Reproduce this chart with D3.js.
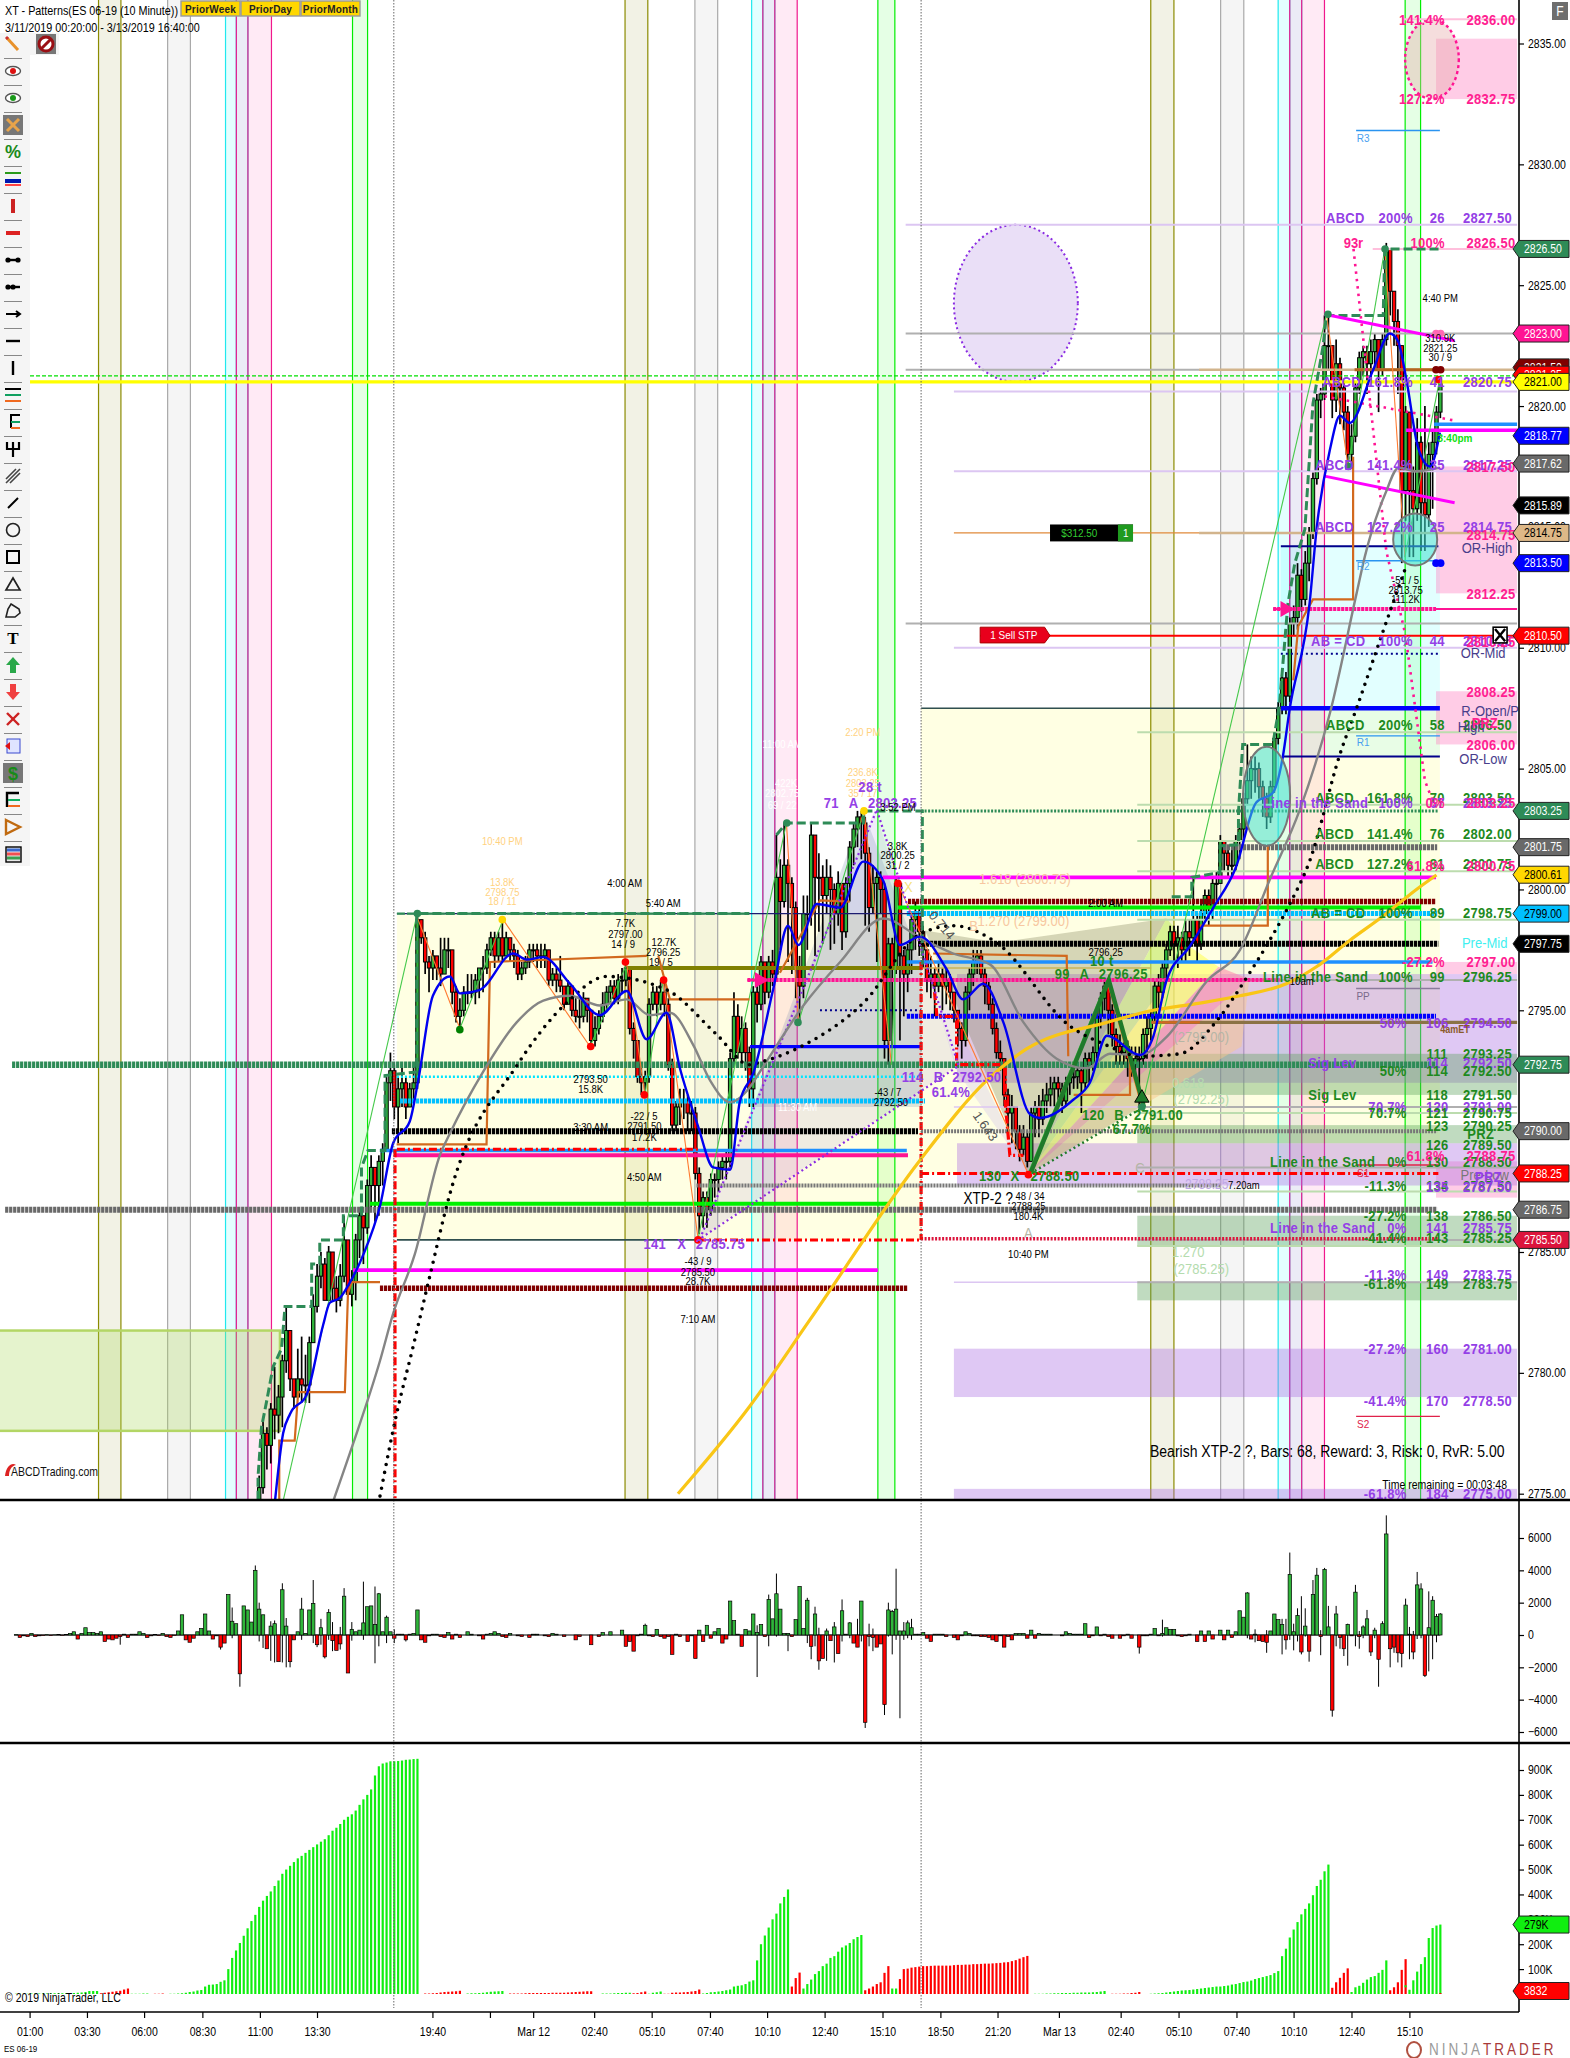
<!DOCTYPE html>
<html>
<head>
<meta charset="utf-8">
<script src="https://cdnjs.cloudflare.com/ajax/libs/d3/7.8.5/d3.min.js"></script>
<style>
html, body { margin: 0; padding: 0; background: #fff; }
svg { display: block; font-family: "Liberation Sans", Arial, sans-serif; }
</style>
</head>
<body>
<script>
const firstBar = 62; // earlier bars sit below the price window
const priceBase = 2700;
const barClose = [
73,75.25,77.5,77,78.5,78.25,79,80.5,81.75,79.75,79,79.75,79.5,79.5,81.25,82.75,84,84.5,83,85,83.5,83,84,85.5,83.25,83.75,85.5,86.5,86,87.75,88.5,87.75,88.75,89.25,92,92.5,91,91.75,92,91,91.75,92,98.75,
98,97,96.75,97.25,96.75,96.5,97.5,97.5,95.75,94.75,95,95.75,95.75,95.75,96.25,96.75,96.75,97.5,98,97.25,98,97.25,98,97.5,97.25,96.5,96.75,97,97.5,97.5,97.25,97.25,97.5,96.25,96.5,96.25,96,95.25,96,95,94.75,94.75,95.5,95,93.75,94.25,94.75,95.25,95.75,96,95.5,96.25,96.25,96.75,
94.25,93.75,92.25,92,92.25,95.25,95.75,95.25,95.75,95.25,92.75,90.25,91,91.25,91.25,90.75,90.75,88.25,86.5,87.25,86.75,88,88,88.5,88.75,88.75,93,94.75,93.25,94.25,93.25,91.75,95.75,95.25,97,95.75,97,96.5,100.5,99.5,101,100.25,99.25,96.75,96,99,99,102.25,100.5,100.5,99.75,100.5,100,99,100.25,98.25,100.25,101.75,102.5,103,102.75,101.5,99.25,100.25,100.5,100,93.75,97.75,96.75,100.25,97.25,96.5,97.5,98.75,99,98.25,
97.5,96.25,96.5,96,96.5,96,96.25,95.75,95,94.25,93.75,95.75,96.5,97,97.25,96.5,96,95.25,94.25,93.25,93,91.5,90.75,91,90,89.25,89.75,88.75,90.75,91,90.5,91.25,91.5,91.75,92,91.75,91.25,92,92.25,92.25,92.5,92,93,92.75,93.25,94.75,95.5,96,95,94,93.5,93.25,93.5,93,92.75,93,93,94,94.25,94.75,96,95.75,96.75,97.5,98.25,97.75,98,97.5,98.25,98,98.75,97.75,99,99.75,99.25,100.25,100.25,102,101.5,101,101,102,102.5,103.75,104.5,105,105,104.25,103.75,103,104.25,106.25,107.5,108.75,108,111,111.25,113,112,113.5,114.75,117,120.25,120.5,122.5,122.5,120.25,121.75,120.75,119.75,118,118.75,120.75,122,122.25,121.75,122.25,122.75,121.5,122.75,126.5,124.75,123.5,122.5,116.5,119.75,116.5,115.75,118.5,116,115.5,118,118.5,119.75,121];
const barHigh = [
74,75.75,78,77.75,78.75,80.25,79.5,80.75,82.75,81.75,79.75,81,81.5,80.75,81.5,83.25,84.5,85,84.75,85.25,85,84,84.5,86.5,85.5,84.25,85.75,86.75,86.5,88,89,88.5,89,89.5,92.25,93.25,92.75,92.25,92.75,92.25,92,92.75,99,
98.75,98.25,97.25,97.5,97.25,98,98,98,97.5,96,95.5,96,96.5,96.5,96.5,96.75,97.25,97.75,98.25,98.25,98.25,98.75,98.25,98,97.75,97.5,97,97.25,97.75,97.75,97.75,97.75,97.75,97.5,96.75,96.75,97.25,96,96.25,96,95.5,95.5,95.75,95.5,95,94.75,95,95.75,96,96.25,96.25,96.5,96.75,97,
96.75,94.5,93.75,92.75,92.5,95.5,96,96,96.25,96.25,95.5,93,91.25,91.75,91.75,91.5,91.25,91,88.5,87.5,87.5,88.25,88.25,88.75,89,89.25,93.25,95.75,95.25,94.75,94.5,93.5,96,96,97.25,97,97.25,97.5,102.25,101.25,102.75,101.25,100.5,99.5,97.25,99.75,99.75,102.75,102.25,101.5,101,101.25,101,100.25,100.75,100.25,100.5,102,102.75,103.25,103.25,103,101.75,101,100.75,100.75,100.25,98,98,100.5,100,97.5,97.75,99,99.5,99.25,
98.5,97.5,97.25,96.75,97,96.75,96.75,96.5,95.75,95,94.5,96,96.75,97.5,97.5,97.5,96.75,96.25,95.5,94.5,93.75,93,91.75,91.5,91,90.25,90.25,90,91,91.25,91.5,91.75,92,92.25,92.25,92.25,92,92.25,92.5,92.75,92.75,92.75,93.25,93.25,93.5,95,95.75,96.25,96,95.25,94.25,94,93.75,93.75,93.5,93.5,93.5,94.25,94.75,95,96.25,96.5,97,97.75,98.5,98.5,98.5,98.25,98.75,98.75,100.5,99,99.5,100,100,100.5,100.75,102.25,102,101.75,101.75,102.25,102.75,104,106,105.5,105.5,105.25,104.5,104,104.5,106.5,107.75,109,109,111.25,111.75,113.5,113.25,114,115,117.25,120.5,120.75,123.75,123.75,122.5,122.75,122,121,120,119.25,121,122.25,122.5,122.5,122.75,123,122.75,123,126.75,125.75,124.75,124,122.5,120,119.75,117.5,119.5,118.75,120,118.5,119,120,121.25];
const barLow = [
71,73.5,75,76,76.25,77.25,77.5,77.75,80,79.25,78.5,79,78.75,78.75,78.75,81.25,82.5,83.5,83,83,83,82.5,82.75,83.75,83.25,82.75,83,84.75,84.5,85.75,86.75,86.25,86.5,87.75,89.25,91.25,90.5,89.5,91,90.5,91,91.25,91.75,
97.75,96.5,95.75,96.25,96.25,96,96.5,96.75,95.25,94.5,94.25,94.75,95.25,95.5,95.25,95.5,95.75,96.5,97.25,96.75,97,97,97.25,97,96.75,96.25,96.25,96.5,96.75,97,96.75,96.75,96.75,96,96,95.75,95.75,95,95.25,94.75,94.5,94.25,94.5,94.5,93.5,93.5,94,94.5,95,95.25,95.25,95.25,95.75,96,
94,93,92,91.5,91.5,92,95,94.75,95,94.75,92.5,90,90,90.25,90.5,90,90,88,85.75,86,86,86.5,87.25,87.5,88,88,88.5,92.75,93,92.75,92.5,91,91,94.5,95,95.25,95.5,96,96.25,97.5,99.25,97,96.5,95.5,94.5,95.5,97.5,98.5,97.25,98.25,97.75,99,97.5,97.75,98.5,97.5,98,99.5,101,101.75,101.25,98.5,98.25,99,97,99,93,92.75,93.5,96.5,93.75,94.75,95.75,96.5,97.5,97.25,
96.75,95.75,95.5,94.75,95.75,95,95.25,95,94.5,93.5,93,93.5,95,96,96.5,96.25,95.25,95,94,93,92.5,91,89.75,89.5,89.25,88.75,89,88.5,88.75,89.75,89.75,90.25,90.75,91,91,91.25,90.75,91,91.5,91.75,91.75,90.75,91.75,92,92.5,93,94.25,95,94,93.5,92.75,92.75,92.75,92.25,92.25,92.25,91,92.75,93,93.75,94.5,95,95.5,96.25,97.25,97,96.75,97,97,97.25,97.75,97,97.5,98.75,98.5,98.75,99.5,100.25,100.75,100.5,100.5,100.75,101.25,102,103.5,103.75,104,103.75,103,102.5,102.75,104,106,107.25,107.25,107.75,110.5,110.75,111.5,111.75,112.75,114.5,116.75,119.5,120.25,121.5,119.5,119.75,119.25,119,117.5,117.5,118.5,120.5,121.25,120.5,121,121.5,119.75,121.25,122.5,123.75,122.5,120.5,113.5,115.25,113.75,113.75,115.25,114,114,115,115.75,118,119.5];

// delta panel, one value per bar from bar 0
const deltaClose = [
20,-150,-50,-100,100,-100,-50,-30,20,-30, 10,30,-20,30,100,200,-250,100,450,150,
150,100,200,-400,-250,-300,-200,-100,50,-150, 50,50,200,100,-150,-50,30,-30,100,-100,
-150,-30,250,1250,-300,-450,-200,200,400,1300, 250,-250,-50,-750,-500,2500,850,700,-2400,1800,
1550,800,4000,1600,1250,-850,550,700,-1650,2800, 550,-1650,-300,200,1600,100,1550,1950,-600,450,
-1350,1400,-350,-950,-550,2400,-2350,350,200,300, 750,1750,1800,650,2550,200,1100,200,-200,50,
50,-300,50,100,1550,-300,-450,-50,50,50, -100,-150,150,-250,50,-150,0,200,50,0,
-50,-250,50,100,200,100,-100,-150,100,0, -50,-100,0,-150,50,50,0,-50,-100,100,
50,0,-100,0,0,-300,-100,0,0,-600, 0,-100,150,0,200,0,0,300,-700,-400,
-1000,-50,50,600,-50,-100,350,-100,-200,-100, -1200,50,-100,0,-400,-50,-1450,300,-400,600,
-200,200,400,-500,-250,2100,900,50,-700,350, 250,1300,150,650,-100,2200,1000,2550,1600,100,
100,-100,950,3000,400,2150,-700,1300,-1600,-1450, 250,-350,500,-1150,1500,50,750,-500,-750,2100,
-5400,-100,-150,-750,-550,-4300,1550,1450,1600,250, 250,750,450,50,50,150,-200,-400,50,50,
50,-100,0,-150,-300,-50,200,100,-50,-50, -100,-100,-150,-300,-400,-50,-750,-100,-300,100,
100,100,-200,300,-200,100,50,50,50,0, 0,-50,200,100,50,50,50,700,-150,-50,
500,-50,50,-100,-200,0,-200,-50,50,-200, 0,-750,-50,-50,50,400,-50,100,450,350,
350,-50,-100,-50,50,0,-400,250,-400,250, -250,0,300,-300,300,-150,200,1500,1100,2600,
-250,50,-350,-400,-450,250,1300,950,650,-300, 3750,200,1200,-1050,550,-1000,2500,3700,-100,4050,
500,-4650,1300,-150,-850,650,-50,2650,-100,500, 1000,-1050,300,-1500,700,6250,-850,-750,-1100,-1150,
1850,50,-1050,3100,2850,-2500,450,2150,1150,1300];
// wick extremes where a bar pokes out of its body: bar, high, low
const deltaWicks = [[27,0,-600],[53,0,-900],[56,1700,-200],[58,0,-3200],[62,4300,0],[63,2000,-400],[64,1250,-800],[66,850,-1600],[67,900,-1700],[69,3200,-1700],[70,1050,-2000],[71,0,-2000],[74,2300,-300],[77,3400,-500],[78,0,-750],[79,1000,-600],[80,0,-1450],[81,1600,-300],[82,800,-1000],[84,500,-900],[85,2900,0],[87,800,-350],[90,3300,-300],[93,3000,-1750],[94,2600,-700],[96,1200,-500],[98,350,-500],[101,0,-400],[163,700,0],[192,600,-2600],[195,2500,-700],[197,3800,-100],[200,0,-1000],
[205,2300,-500],[206,0,-1500],[207,1750,-700],[208,450,-2150],[210,400,-1600],[212,800,-1700],[214,2200,-400],[216,800,-200],[218,1000,-700],[219,2100,-400],[220,0,-5750],[221,700,-700],[222,400,-1000],[225,0,-4950],[226,2000,-100],[227,1550,-1200],[228,4100,-300],[229,250,-5150],[230,800,-300],[231,900,-200],[232,1000,-300],[291,0,-1150],[297,950,-100],[319,2650,-200],[321,350,-450],[324,300,-1100],[328,1000,-1200],[329,1000,-900],[330,5100,-300],[331,700,-950],[332,1650,-400],[333,2400,-1200],[334,1650,-100],[335,0,-1650],[336,3400,0],[337,4150,0],[338,300,-1250],[339,4150,0],[340,1800,0],[341,0,-5050],[342,1800,-700],[343,0,-850],[344,0,-1300],[345,700,-1900],[347,3100,-700],[348,250,-850],[349,600,-200],[350,1550,0],[351,0,-1300],[352,450,-200],[353,0,-3200],[354,850,0],[355,7400,0],[356,0,-2000],[357,0,-1100],[358,0,-1700],[359,0,-2000],[360,2250,0],[361,500,-1500],[362,250,-1500],[363,3900,-250],[364,3200,-200],[365,0,-2600],[366,2700,-2250],[367,2400,-1500],[368,1300,-450],[369,1350,0]];

// cumulative volume in thousands, negative draws red. [first bar, values]
const volumeRuns = [
[0,[1,1,1,1,2,2,2,2,2,3,3,3,3,3,4,4,5,6,8,12,12,12]],
[22,[-3,-5,-7,-9,-11,-13,-18,-22]],
[30,[1,1,1,2,2]],
[36,[-1,-1,-2]],
[40,[1,1,2,3,5,8,10,14,16,30,37,38,40,49,55,100,145,175,205,234,264,293,318,350,375,394,412,434,456,483,500,515,530,545,555,567,579,590,601,612,622,638,656,668,683,700,712,722,737,760,782,800,822,878,915,926,930,935,935,936,938,941,942,944,945]],
[106,[-2,-2,-3,-4,-6,-8,-9,-10,-11,-13]],
[117,[2,3,3,4,5,7,9,10,11,12]],
[128,[-2,-2,-2,-2,-3,-4,-4,-4,-4,-4,-4,-5,-5,-5,-5,-6,-7,-8,-9,-10,-11,-11]],
[152,[2,2,2,3,4,4,5,5]],
[160,[-3,-4,-7,-10]],
[164,[1,5,7,10]],
[168,[-1,-1]],
[170,[-5,-6,-6,-7,-8,-10,-12,-18]],
[178,[2,4,7,8,10,12,15,18,30,33,35,40,50,55,135,200,235,267,300,323,364,390,420]],
[201,[-30,-64,-86]],
[204,[22,40,58,80,92,112,122,145,152,170,187,195,205,220,229,237]],
[220,[-15,-22,-30,-40,-47,-85,-112]],
[227,[22,22]],
[229,[-60,-100,-102,-106,-108,-110,-112,-112,-113,-114,-114,-114,-114,-114,-116,-117,-117,-118,-118,-120,-120,-121,-122,-122,-123,-124,-125,-127,-128,-132,-136,-142,-148,-153]],
[264,[1,1,1,2,2,3,3,4,4,4,5,5,6,6,6,7,8,10,12]],
[284,[-1,-1,-1,-2,-2,-4,-5,-8]],
[294,[1,2,3,4,6,8,10,12,14,15,16,18,20,22,24,26,28,30,30,32,34,38,40,44,48,50,54,60,64,68,72,76,84,92,152,182,227,259,289,320,342,364,397,434,459,493,520]],
[341,[-25,-47,-65,-85,-103]],
[346,[8,27,33,45,58,68,72,85,97,135]],
[356,[-15,-27,-47,-97,-140]],
[361,[17,55,90,120,148,225,265,275,279]]];

// moving averages and swings: [bar, price]
const blueAverage = [[67.1,2774.7],[69.2,2777.5],[71,2778.3],[75.3,2779.1],[79.6,2782],[81.3,2782.9],[83.9,2783.1],[86,2783.6],[90,2784.9],[94.3,2786.9],[97.7,2789.5],[102,2790.4],[104.2,2792.1],[108,2795.6],[112.4,2796.4],[115,2795.7],[120.2,2795.85],[128.8,2797.35],[132.3,2797.1],[136.6,2797.2],[143.5,2796.1],[151.3,2794.8],[158.2,2795.8],[163.4,2793.8],[168.5,2794.9],[172,2792.6],[176.7,2790.2],[180.6,2788.5],[185,2788.4],[187.5,2791.2],[191,2792.4],[196.2,2795.9],[200,2798.5],[202.7,2797.7],[207.4,2799.4],[213.5,2799.25],[219.5,2801.15],[224.7,2800.35],[229,2797.7],[234.2,2798.05],[241.1,2796.7],[245.4,2795.45],[250.6,2796.1],[255.8,2794.5],[262.7,2790.7],[265.3,2790.55],[273.9,2791.3],[278.2,2792],[282.6,2793.95],[291.2,2793.15],[294.6,2793.9],[298.1,2796.25],[304.1,2797.65],[310.2,2799.25],[316,2800.9],[321.3,2803.6],[325.6,2804],[328.2,2805.5],[329.9,2807.4],[335.1,2811.8],[337,2815],[340.4,2818.2],[343,2819.6],[345.5,2819.3],[351.6,2821.5],[355.9,2823],[358,2822.7],[360.2,2821.1],[363.2,2818.3],[366.3,2817.5],[368.9,2818.9]];
const grayAverage = [[82.2,2774.7],[87.4,2777.1],[94.3,2780.5],[97.7,2782.45],[103.3,2784.9],[109.8,2789],[112.4,2789.9],[121,2792.45],[129.7,2794.5],[136.6,2795.4],[143.5,2795.6],[151.3,2795.2],[158.2,2795.45],[164.2,2794.8],[169.4,2794.9],[175.5,2793.55],[179.8,2792.1],[185,2791.2],[190,2791.8],[192.7,2792.45],[204,2795.2],[213.5,2797],[224.7,2798.8],[234.2,2798],[242.8,2797.35],[252.3,2796.9],[261,2794.5],[269.6,2793],[277.4,2792.6],[283.4,2793.2],[291.2,2793.15],[298.1,2793.9],[308.5,2796.2],[317.1,2797.5],[324.8,2800.4],[332.6,2803.3],[340.4,2807.3],[347.3,2812.25],[349.4,2813.75],[354.8,2816.4],[358.2,2817.45],[362.8,2817.3],[368.9,2817.45]];
const dottedAverage = [[94.3,2774.9],[98.6,2778.3],[102.9,2781.1],[107.2,2784],[112.4,2787.4],[129.7,2792.7],[142.6,2795.3],[153,2796.4],[168.5,2795.85],[181.5,2794],[190,2792.75],[192.7,2792.85],[204,2793.55],[219.5,2795.3],[234.2,2798.15],[242.8,2798.5],[254,2797.8],[273,2794.35],[282.6,2793.55],[291.2,2793.1],[301.5,2793.2],[311,2794.55],[319.2,2796.45],[324.8,2797.9],[330,2799.4],[335.2,2801.2],[343,2805.6],[347.3,2807.5],[354.2,2810.7],[360.2,2813.4]];
const goldAverage = [[171.5,2775],[190,2778.6],[205.7,2782.2],[234.2,2788.8],[251.5,2792.1],[261.8,2793.4],[282.6,2794.5],[294.6,2795],[306.7,2795.3],[317.1,2795.6],[329.1,2796.1],[336.9,2796.8],[345.6,2797.9],[354.2,2798.9],[362.8,2800],[368,2800.6]];
const swingPoints = [[69.2,2774.7],[103.8,2798.9],[115,2794.25],[126.2,2798.75],[148.7,2793.5],[158.2,2796.9],[162.9,2791.5],[167.7,2796.25],[176.7,2785.55],[199.6,2802.75],[202.7,2794.5],[219.7,2803.25],[226.8,2792.75],[228.6,2800.2],[262.2,2788.25],[282.6,2796.25],[291.6,2791],[339.5,2823.8],[345.1,2817.5],[354.6,2826.5],[359.8,2813.75],[369,2821.25]];
const orangeSteps = [
[[68.2,2774.7],[68.2,2777.2],[72.2,2777.2],[73.1,2779.2],[85.2,2779.2],[86,2783.3],[87,2783.75],[94.3,2783.75]],
[[98.6,2789.45],[121.9,2789.45],[122.8,2797],[163.4,2797.25]],
[[166.4,2797.25],[169.4,2795.45],[190,2795.45]],
[[197.9,2796.55],[208.3,2799.55],[216,2799.5]],
[[237.6,2797.35],[272.2,2797.25],[272.6,2793.1]],
[[274,2791.5],[288.6,2791.5],[288.6,2793]],
[[294.2,2794.5],[306.7,2794.5]],
[[306.7,2798.5],[324.3,2798.5],[324.3,2801.8]],
[[330.9,2808.65],[332.2,2810.9],[336,2812],[346.4,2812],[346.4,2817.9]]];
const highSteps = [
[[62.7,2774.75],[62.7,2775.7],[63.6,2777.75],[64.9,2778.8],[66.6,2780.25],[68.8,2781],[69.7,2782.75],[76.6,2782.75],[76.6,2784.5],[78.7,2784.5],[78.7,2785.5],[84.8,2785.5],[84.8,2786.5],[89.5,2786.5],[89.5,2788.5],[91.2,2789.2],[95.6,2789.2],[95.6,2792.3],[103.8,2792.45],[103.8,2799],[190,2799]],
[[197,2802.25],[199.6,2802.75],[219.5,2802.75],[219.7,2803.25],[234.8,2803.25],[234.8,2796.9]],
[[299.4,2799.7],[304.6,2799.7],[304.6,2800.5],[311.9,2800.7],[311.9,2801.8],[316.7,2801.85],[316.7,2803.2],[317.8,2806],[325.6,2806],[327.3,2807.6],[329.5,2811.8],[331.3,2813.5],[333.9,2814.9],[336,2820.1],[338.6,2822.45],[339.5,2823.75],[354.2,2823.75],[354.6,2826.5],[368.9,2826.5]]];
const redStops = [
[[98.7,2789.25],[98.7,2772]],
[[235,2797],[235,2785.5]],
[[238.5,2795.75],[239.1,2794.75],[244.2,2794.75],[244.2,2792.75],[256.8,2792.75],[256.8,2791.2],[258,2789],[261.5,2789]]];
const magentaTrends = [[[339,2823.8],[372.7,2822.7]],[[339,2817.1],[372.7,2816]]];
const pinkDotted = [[[339,2820.4],[372.7,2819.4]],[[346.5,2826.5],[355,2814],[360,2810.5],[365,2804.5],[368,2803.25]]];
const patternPurple = [[177.2,2785.55],[223,2803.3],[244.2,2792.7],[177.2,2785.55]];
const patternGreen = [[262.8,2788.25],[283.1,2796.25],[292.2,2791]];

// session shading, [look, from, to] in bar slots
const bands = [
['olive',21.9,27.7],['gray',39.8,45.7],['cyan',54.8,57.6],['navy',57.6,60.6],['pink',60.6,66.7],['green',87.7,91.6],
['olive',158.3,164.2],['gray',176.4,182.3],['cyan',191.1,194],['navy',194,197.1],['pink',197.1,202.9],['green',223.8,228.2],
['olive',294.5,300.5],['gray',312.6,318.6],['cyan',327.5,330.5],['navy',330.5,333.6],['pink',333.6,339.5],['green',360.4,364.4]];
const sessionBreaks = [98.4,235];

// [look, from bar, to bar, price a, price b]
const baseZones = [
['yellow',99.2,235,2799,2785.5],['yellow',235,369.4,2807.5,2788.25],['cyan',328.2,369.4,2814.2,2807.5],['mint',328.2,369.4,2807.5,2805.5]];
const zones = [
['pink',368.4,389.4,2835.2,2832.7],['pink',368.4,389.4,2817.5,2812.25],['pink',368.4,389.4,2808.2,2806],['pink',368.4,389.4,2797,2796.5],['pink',368.4,389.4,2788.75,2787.25],
['lilac',244.3,389.4,2796.5,2792],['lilac',244.3,389.4,2789.5,2787.75],['lilac',243.5,389.4,2781,2779],['lilac',243.5,389.4,2775.2,2774.7],
['sage',291,389.4,2793.2,2791.5],['sage',291,389.4,2790.25,2789.5],['sage',291,389.4,2786.5,2785.25],['sage',291,389.4,2783.75,2783]];
const cornerBox = [-4,68.9,2781.75,2777.6];
// [look, [bar, price]...]
const wedges = [
['rgba(130,130,90,.33)',[236,2798.3],[255,2797.8],[298.6,2798.8],[262.8,2788.25]],
['rgba(200,240,110,.6)',[262.8,2788.25],[298.6,2798.8],[305,2797.6]],
['rgba(255,255,110,.7)',[262.8,2788.25],[305,2797.6],[312,2796.8]],
['rgba(255,140,170,.6)',[262.8,2788.25],[312,2796.8],[320,2796.3]],
['rgba(250,200,140,.5)',[262.8,2788.25],[320,2796.3],[318,2793.5]],
['rgba(110,130,170,.22)',[191.5,2791],[220,2803.25],[235,2797],[235,2791]],
['rgba(190,170,240,.25)',[235,2797.5],[262.8,2788.25],[244.2,2792.5]]];
// ellipses by bounding box: from bar, to bar, price a, price b
const ovals = [
[243.5,275.6,2827.5,2821,'#eadff7','#8a2be2','2 3',2],
[360.4,374.3,2836,2832.7,'rgba(230,170,170,.4)','#ff1493','3 3',2.4]];
const glassOvals = [
[318.4,330.6,2805.9,2801.8],[357.3,368.7,2815.55,2813.4]];

// horizontal levels, [look, from bar, to bar, price]
const levels = [
['lav',231,389.4,2827.5],['lav',243.5,389.4,2820.6],['lav',243.5,389.4,2817.3],['lav',243.5,389.4,2810],['lavThin',243.5,389.4,2791],['lavThin',243.5,389.4,2783.75],
['pinkThin',352,389.4,2826.5],['pinkThin',360,389.4,2836],
['grayLine',231,389.4,2823],['grayLine',231,389.4,2811],['grayLine',231,307,2821.5],['tan',307,389.4,2821.5],['orangeThin',243.5,307,2814.75],['tan',307,389.4,2814.75],['brown',347.3,368.9,2821.5],
['sageThin',291,389.4,2806.5],['sageThin',291,389.4,2803.5],['sageThin',291,389.4,2802],['sageThin',291,389.4,2800.75],['sageThin',291,389.4,2798.75],['grayLine',291,389.4,2796.25],['grayLine',291,389.4,2791],['sageThin',291,389.4,2790.75],['grayLine',291,389.4,2788.5],['sageThin',291,389.4,2787.5],['grayLine',291,389.4,2785.5],['sageThin',291,389.4,2785.25],['grayLine',291,389.4,2783.75],
['pivotBlue',347.7,369.4,2831.4],['pivotBlue',347.7,369.4,2813.6],['pivotBlue',347.7,369.4,2806.35],['pivotGray',347.7,369.4,2795.9],['pivotRed',347.7,369.4,2788.6],['pivotRed',347.7,369.4,2778.2],
['limeDash',4.15,389.9,2821.25],['yellowLine',4.15,389.9,2821],
['slate',235,328.2,2807.5],['navy',328.2,369,2814.2],['navy',328.8,369.4,2805.5],['navyDot',328.2,369,2809.75],['blueWide',328.2,369.4,2807.5],['red',250.3,389.9,2810.5],
['beadPink',326.2,368.4,2811.6],['pinkLine',368.4,389.4,2811.6],['magenta',360.6,389.4,2819],['dodger',367.9,389.4,2819.25],
['beadGreenThin',235,369,2803.25],['beadGray',313.2,368.7,2801.75],
['magenta',225,368.4,2800.5],['beadMaroon',231.6,368.4,2799.5],['lime',228.8,364.4,2799.25],['beadSky',231.3,368.7,2799],['beadBlack',234.2,369,2797.75],['dodger',231.3,367.5,2797],['beadPink',190,328,2796.25],
['oliveLine',158.8,235,2796.75],['goldThin',235,294.6,2796.75],['navyThin',99.2,235,2799],['navyDot',208.8,235,2795],['beadBlue',231.3,368.4,2794.75],['brownWide',294.6,389.4,2794.5],['blue',190.7,235,2793.5],
['beadGreen',-0.5,368.7,2792.75],['cyanDot',99.2,235,2792.25],['beadSky',100,236,2791.25],['beadBlack',97.9,234.2,2790],['beadGrayThin',235,368.7,2790],
['dodger',94.8,231.3,2789.2],['hotPink',98.7,231.6,2789],['redDash',99.2,177.2,2789.25],['redDash',235,369,2788.25],['beadGrayThin',176.8,312.4,2787.75],
['lime',92.2,226.9,2787],['beadGray',-2.3,368.7,2786.75],['slate',99.2,177.2,2785.5],['redDash',177.2,235,2785.5],['beadCrimson',235,369,2785.55],
['magenta',87.8,223.8,2784.25],['beadMaroon',94.8,231.6,2783.5]];
const greenDashLevels = [[99.2,190,2799]];

// [bar, price, look]
const swingDots = [
[104.5,2799,'seagreen'],[115.5,2794.2,'green'],[126.5,2798.75,'gold'],[149.4,2793.5,'red'],[158.4,2797,'red'],[163.3,2791.5,'red'],[168.3,2796.25,'red'],[177.2,2785.5,'red'],[200.2,2802.75,'seagreen'],[203.1,2794.5,'seagreen'],[220.2,2803.25,'gold'],[229,2800.25,'red'],[262.8,2788.2,'red'],[292.2,2791,'seagreen'],[340.4,2823.8,'seagreen'],[345.7,2817.5,'seagreen'],[355.2,2826.5,'seagreen'],[368.4,2823,'hotpink'],[369.6,2823,'hotpink'],[368.4,2821.5,'maroon'],[369.6,2821.5,'maroon'],[369,2821.1,'red'],[368.4,2813.5,'blue'],[369.6,2813.5,'blue']];

// target rows on the right: [look, name, name bar, percent, percent bar, count, price, price of text centre]
const fibRows = [
['p','ABCD',339.9,'200%',362.4,26,2827.5,2827.8],['p','ABCD',338.9,'161.8%',362.4,41,2820.75,2821.03],['p','ABCD',337.1,'141.4%',362.4,35,2817.25,2817.57],['p','ABCD',337.1,'127.2%',362.4,25,2814.75,2815.03],['p','AB = CD',336,'100%',362.4,44,2810.25,2810.28],
['g','ABCD',339.9,'200%',362.4,58,2806.5,2806.8],['g','ABCD',337.1,'161.8%',362.4,70,2803.5,2803.8],['p','Line in the Sand',323.6,'100%',362.4,67,2803.25,2803.6],['g','ABCD',337.1,'141.4%',362.4,76,2802,2802.3],['g','ABCD',337.1,'127.2%',362.4,81,2800.75,2801.05],['g','AB = CD',336,'100%',362.4,89,2798.75,2799.05],
['g','Line in the Sand',323.6,'100%',362.4,99,2796.25,2796.4],['p','',0,'50%',360.8,106,2794.5,2794.5],['g','',0,'',0,111,2793.25,2793.2],['p','Sig Lev',335.3,'',0,114,2792.5,2792.85],['g','',0,'50%',360.8,114,2792.5,2792.5],['g','Sig Lev',335.3,'',0,118,2791.5,2791.5],['p','',0,'70.7%',360.8,120,2791,2791],['g','',0,'70.7%',360.8,121,2790.75,2790.75],['g','',0,'',0,123,2790.25,2790.25],['g','',0,'',0,126,2789.5,2789.45],
['g','Line in the Sand',325.4,'0%',360.8,130,2788.5,2788.75],['g','',0,'-11.3%',360.8,134,2787.5,2787.75],['p','',0,'',0,135,2787.5,2787.7],['g','',0,'-27.2%',360.8,138,2786.5,2786.5],['p','Line in the Sand',325.4,'0%',360.8,141,2785.75,2786],['g','',0,'-41.4%',360.8,143,2785.25,2785.6],['p','',0,'-11.3%',360.8,149,2783.75,2784.05],['g','',0,'-61.8%',360.8,149,2783.75,2783.7],['p','',0,'-27.2%',360.8,160,2781,2781],['p','',0,'-41.4%',360.8,170,2778.5,2778.85],['p','',0,'-61.8%',360.8,184,2775,2775]];
// [percent, price, price of text centre]
const pinkRows = [
['141.4%',2836,2836],['127.2%',2832.75,2832.7],['100%',2826.5,2826.75],['',2817.5,2817.5],['',2814.75,2814.7],['',2812.25,2812.25],['',2810.25,2810.25],['',2808.25,2808.2],['',2806,2806],['0%',2803.25,2803.6],['61.8%',2800.75,2801],['-27.2%',2797,2797],['61.8%',2788.75,2789]];
// free labels: [text, bar, price of text centre, look]
const notes = [
['93r',347,2826.75,'pinkBig'],
['10:40 PM',126.5,2802,'orange'],['13.8K',126.5,2800.3,'orange'],['2798.75',126.5,2799.9,'orange'],['18 / 11',126.5,2799.5,'orange'],
['4:00 AM',158.2,2800.25,'small'],['5:40 AM',168.2,2799.45,'small'],['7.7K',158.4,2798.6,'small'],['2797.00',158.4,2798.15,'small'],['14 / 9',157.8,2797.75,'small'],['12.7K',168.4,2797.8,'small'],['2796.25',168.2,2797.4,'small'],['19 / 5',167.6,2797,'small'],
['2793.50',149.4,2792.15,'small'],['15.8K',149.4,2791.75,'small'],['-22 / 5',163.2,2790.6,'small'],['2791.50',163.3,2790.2,'small'],['17.2K',163.3,2789.75,'small'],['3:30 AM',149.4,2790.15,'small'],['4:50 AM',163.3,2788.1,'small'],
['-43 / 9',177.2,2784.6,'small'],['2785.50',177.2,2784.15,'small'],['28.7K',177.2,2783.8,'small'],['7:10 AM',177.2,2782.2,'small'],
['141',166,2785.35,'purple'],['X',173,2785.35,'purple'],['2785.75',183,2785.35,'purple'],
['2:20 PM',219.9,2806.5,'orange'],['236.8K',219.9,2804.85,'orange'],['2803.25',219.9,2804.4,'orange'],['35 / 17',219.9,2804,'orange'],['11:00 AM',199,2806,'white'],['422K',200,2804.4,'white'],['2802.75',199,2804,'white'],['69 / 22',199,2803.5,'white'],
['28 t',221.8,2804.25,'purple'],['71',211.7,2803.6,'purple'],['A',217.5,2803.6,'purple'],['2803.25',227.6,2803.6,'purple'],['3:52 PM',229,2803.4,'small'],
['3.8K',228.9,2801.8,'small'],['2800.25',228.9,2801.4,'small'],['31 / 2',228.9,2801,'small'],['X',231.7,2800.1,'paleYellow'],['B',248.6,2798.5,'paleOrange'],['1.618 (2800.75)',261.9,2800.45,'paleOrange'],['1.270 (2799.00)',261.5,2798.7,'paleOrange'],
['114',232.8,2792.25,'purple'],['B',239.5,2792.25,'purple'],['2792.50',249.4,2792.25,'purple'],['61.4%',242.7,2791.65,'purple'],['-43 / 7',226.4,2791.6,'small'],['2792.50',227.2,2791.2,'small'],['11:30 AM',203,2791,'white'],
['2:00 AM',282.8,2799.45,'small'],['2796.25',282.8,2797.4,'small'],['10 t',281.8,2797.05,'green'],['99',271.6,2796.5,'green'],['A',277.3,2796.5,'green'],['2796.25',287.4,2796.5,'green'],
['120',279.6,2790.7,'green'],['B',286.3,2790.7,'green'],['2791.00',296.5,2790.7,'green'],['67.7%',289.6,2790.1,'green'],['130',252.9,2788.15,'green'],['X',259.3,2788.15,'green'],['2788.50',269.7,2788.15,'green'],
['XTP-2 ?',252.4,2787.2,'black15'],['48 / 34',263.2,2787.3,'small'],['2788.25',262.8,2786.9,'small'],['180.4K',262.8,2786.5,'small'],['A',262.8,2785.8,'pale'],['10:40 PM',262.8,2784.9,'small'],['C',291.7,2788.5,'pale'],
['0.618',304.2,2792,'paleGreen'],['(2792.25)',307.6,2791.35,'paleGreen'],['1.270',304.2,2785,'paleGreen'],['(2785.25)',307.6,2784.3,'paleGreen'],['(2795.00)',307.6,2793.9,'pale'],['2788.25',309,2787.8,'paleLilac'],
['7.20am',318.6,2787.75,'small'],['10am',333.6,2796.2,'small'],['4amET',373.3,2794.2,'brown'],
['OR-High',381.6,2814.15,'level'],['OR-Mid',380.6,2809.8,'level'],['R-Open/P',382.4,2807.4,'level'],['High',377.5,2806.75,'level'],['OR-Low',380.6,2805.4,'level'],['Pre-Mid',381,2797.8,'cyanLevel'],['Pre-Low',381,2788.2,'grayLevel'],['PRZ',381,2806.9,'pinkBig'],['PRZ',380,2789.9,'green'],['PRZ',382,2788.1,'purple'],
['R3',349.5,2831.1,'pivotBlue'],['R2',349.5,2813.4,'pivotBlue'],['R1',349.5,2806.1,'pivotBlue'],['PP',349.5,2795.6,'pivotGray'],['S1',349.5,2788.3,'pivotRed'],['S2',349.5,2777.9,'pivotRed'],
['4:40 PM',369.5,2824.45,'small'],['310.9K',369.5,2822.8,'small'],['2821.25',369.5,2822.4,'small'],['30 / 9',369.5,2822,'small'],['3:40pm',373.3,2818.7,'limeBold'],['-51 / 5',360.5,2812.8,'small'],['2813.75',360.5,2812.4,'small'],['111.2K',360.5,2812,'small']];
const slantNotes = [['0.714',239.5,2798.4,50],['1.643',250.7,2790.1,55]];

// axis
const priceTicks = d3.range(2775,2836,5);
const deltaTicks = [-6000,-4000,-2000,0,2000,4000,6000];
const volumeTicks = [100,200,300,400,500,600,700,800,900];
const timeBars = [4.04,18.9,33.7,48.8,63.7,78.5,108.4,123.3,134.5,150.3,165.2,180.3,195.1,210,225,240,254.8,270.7,286.7,301.7,316.7,331.5,346.5,361.5];
const timeLabels = ['01:00','03:30','06:00','08:30','11:00','13:30','19:40','','Mar 12','02:40','05:10','07:40','10:10','12:40','15:10','18:50','21:20','Mar 13','02:40','05:10','07:40','10:10','12:40','15:10'];
// [value, fill, text]
const priceFlags = [
[2826.5,'#2e8b57','#fff'],[2823,'#ff1493','#fff'],[2821.6,'#800000','#fff'],[2821.3,'#f00','#fff'],[2821,'#ff0','#000'],[2818.77,'#00f','#fff'],[2817.62,'#696969','#fff'],[2815.89,'#000','#fff'],[2814.75,'#deb887','#000'],[2813.5,'#00f','#fff'],[2810.5,'#f00','#fff'],[2803.25,'#2e8b57','#fff'],[2801.75,'#696969','#fff'],[2800.61,'#ffd700','#000'],[2799,'#00bfff','#000'],[2797.75,'#000','#fff'],[2792.75,'#2e8b57','#fff'],[2790,'#696969','#fff'],[2788.25,'#f00','#fff'],[2786.75,'#696969','#fff'],[2785.5,'#dc143c','#fff']];
const flagText = {2821.6:'2821.50',2821.3:'2821.25'};

const W = 1570, H = 2058, axisX = 1519;
const x = d3.scaleLinear().domain([0,369]).range([14,14+3.86*369]);
const barX = k => x(k+0.52);
const y = d3.scaleLinear().domain([2775,2835]).range([1493.7,43.5]);
const yDelta = d3.scaleLinear().domain([-6000,6000]).range([1732,1538]);
const yVolume = d3.scaleLinear().domain([0,900]).range([1994,1770]);

const svg = d3.select('body').append('svg').attr('width',W).attr('height',H);
svg.append('rect').attr('width',W).attr('height',H).attr('fill','#fff');
const defs = svg.append('defs');
defs.append('clipPath').attr('id','mainClip').append('rect').attr('width',axisX).attr('height',1499);
const main = svg.append('g').attr('clip-path','url(#mainClip)');

// the screenshot is stretched a little in height, text follows
function put(g,px,py,txt,o) {
    o = o || {};
    return g.append('text')
        .attr('transform','translate('+px+','+py+') scale(1,1.18)')
        .attr('font-size',o.size||10.5)
        .attr('font-weight',o.weight||400)
        .attr('fill',o.color||'#000')
        .attr('text-anchor',o.anchor||'middle')
        .attr('dominant-baseline',o.base||'central')
        .attr('letter-spacing',o.spacing||0)
        .text(txt);
}
const path = d3.line().x(d => x(d[0])).y(d => y(d[1]));
const barPath = d3.line().x(d => barX(d[0])).y(d => y(d[1]));

function zoneRects(list,looks) {
    main.append('g').selectAll('rect').data(list).join('rect')
        .attr('x',d => x(d[1])).attr('width',d => x(d[2])-x(d[1]))
        .attr('y',d => y(d[3])).attr('height',d => y(d[4])-y(d[3]))
        .attr('fill',d => looks[d[0]]);
}
zoneRects(baseZones,{yellow:'#ffffe3',cyan:'#e2ffff',mint:'#e8fde6'});

// vertical session shading with its edge lines
const bandLook = {olive:['rgba(128,128,0,.10)','#8b8b00'],gray:['rgba(128,128,128,.08)','#a9a9a9'],cyan:['rgba(0,255,255,.11)','#1fe8ee'],navy:['rgba(60,60,170,.10)','#1fe8ee'],pink:['rgba(255,20,147,.09)','#f0188c'],green:['rgba(0,255,0,.10)','#00ee00']};
bands.forEach(b => {
    main.append('rect').attr('x',x(b[1])).attr('width',x(b[2])-x(b[1])).attr('y',0).attr('height',1499).attr('fill',bandLook[b[0]][0]);
    [b[1],b[2]].forEach((e,i) => {
        if (b[0]==='navy' && i===0) { main.append('line').attr('x1',x(e)).attr('x2',x(e)).attr('y1',0).attr('y2',1499).attr('stroke','#f0188c').attr('stroke-width',1.2); return; }
        main.append('line').attr('x1',x(e)).attr('x2',x(e)).attr('y1',0).attr('y2',1499).attr('stroke',bandLook[b[0]][1]).attr('stroke-width',1.2);
    });
});

zoneRects(zones,{pink:'rgba(255,120,190,.38)',lilac:'rgba(170,110,225,.38)',sage:'rgba(90,160,90,.38)'});
main.append('rect').attr('x',x(cornerBox[0])).attr('width',x(cornerBox[1])-x(cornerBox[0]))
    .attr('y',y(cornerBox[2])).attr('height',y(cornerBox[3])-y(cornerBox[2]))
    .attr('fill','rgba(170,215,90,.3)').attr('stroke','#b3d665').attr('stroke-width',2.5);
main.append('path').attr('d',path(patternPurple)).attr('fill','rgba(140,110,220,.13)');
wedges.forEach(w => main.append('path').attr('d',path(w.slice(1))+'Z').attr('fill',w[0]));
main.append('path').attr('d',path(patternGreen)+'Z').attr('fill','rgba(120,160,110,.25)');
ovals.forEach(o => {
    main.append('ellipse').attr('cx',(x(o[0])+x(o[1]))/2).attr('cy',(y(o[2])+y(o[3]))/2)
        .attr('rx',(x(o[1])-x(o[0]))/2).attr('ry',(y(o[3])-y(o[2]))/2)
        .attr('fill',o[4]).attr('stroke',o[5]).attr('stroke-dasharray',o[6]).attr('stroke-width',o[7]);
});

// candles
const candles = barClose.map((c,i) => {
    const k = firstBar+i;
    const open = i ? barClose[i-1] : c-1;
    return {k, open:priceBase+open, close:priceBase+c, high:priceBase+barHigh[i], low:priceBase+barLow[i]};
});
const candleG = main.append('g');
candleG.selectAll('line').data(candles).join('line')
    .attr('x1',d => barX(d.k)).attr('x2',d => barX(d.k))
    .attr('y1',d => y(d.high)).attr('y2',d => y(d.low))
    .attr('stroke','#000').attr('stroke-width',1.7);
candleG.selectAll('rect').data(candles).join('rect')
    .attr('x',d => barX(d.k)-1.7).attr('width',3.4)
    .attr('y',d => y(Math.max(d.open,d.close)))
    .attr('height',d => Math.max(1,Math.abs(y(d.open)-y(d.close))))
    .attr('fill',d => d.close>=d.open ? '#2fb53a' : '#f00')
    .attr('stroke','#000').attr('stroke-width',1);

// price level lines, the beaded ones read as solid with small teeth
const bead = '3.2 0.8';
const levelLook = {
    lav:['#dcc6f2',2], lavThin:['#dcc6f2',1.5], pinkThin:['#ffbfdc',2], grayLine:['#b0b0b0',2], tan:['#d2b48c',2.4], orangeThin:['#e08a3a',1.2], brown:['#b5651d',3],
    sageThin:['#bcdcae',2], pivotBlue:['#2a94f0',1.3], pivotGray:['#8a7a9a',1.5], pivotRed:['#e0224a',1.3],
    limeDash:['#00e000',1.3,'4 2'], yellowLine:['#ff0',3.2], slate:['#2f4f4f',1.6], navy:['#00008b',2], navyDot:['#00008b',2,'2 3'], navyThin:['#1c1c70',1.4], blueWide:['#00f',4.4], red:['#f00',2],
    beadPink:['#ff1493',4,bead], pinkLine:['#ff1493',2], magenta:['#f0f',3.6], dodger:['#1e90ff',3.6], beadGreenThin:['#2e8b57',3,'2 1.5'], beadGray:['#696969',6,bead], beadGrayThin:['#777',4,'2 1'],
    beadMaroon:['#800000',5.5,bead], lime:['#00f000',4], beadSky:['#00bfff',5,bead], beadBlack:['#000',6,bead], oliveLine:['#808000',3.8], goldThin:['#c9b458',1.6], beadBlue:['#00f',5,bead], brownWide:['#8b7345',3.4], blue:['#00f',3.2],
    beadGreen:['#2e8b57',6.4,bead], cyanDot:['#00e5ff',2.4,'2 2'], hotPink:['#ff1493',4], redDash:['#f00',3,'8 3 2 3'], beadCrimson:['#dc143c',3.4,'2 1.5']
};
main.append('g').selectAll('line').data(levels).join('line')
    .attr('x1',d => x(d[1])).attr('x2',d => x(d[2])).attr('y1',d => y(d[3])).attr('y2',d => y(d[3]))
    .attr('stroke',d => levelLook[d[0]][0]).attr('stroke-width',d => levelLook[d[0]][1])
    .attr('stroke-dasharray',d => levelLook[d[0]][2]||null);
redStops.forEach(s => main.append('path').attr('d',path(s)).attr('fill','none').attr('stroke','#f00').attr('stroke-width',3.2).attr('stroke-dasharray','8 3 2 3'));
greenDashLevels.forEach(l => main.append('path').attr('d',path([[l[0],l[2]],[l[1],l[2]]])).attr('fill','none').attr('stroke','#2e8b57').attr('stroke-width',2.4).attr('stroke-dasharray','8 2'));

// swing zigzag, thin green up and orange down
swingPoints.slice(1).forEach((p,i) => {
    const a = swingPoints[i];
    main.append('path').attr('d',barPath([a,p])).attr('fill','none').attr('stroke-width',1.1)
        .attr('stroke',p[1]>a[1] ? '#45c94a' : '#ff7a30');
});
orangeSteps.forEach(s => main.append('path').attr('d',barPath(s)).attr('fill','none').attr('stroke','#d2691e').attr('stroke-width',2.2));
highSteps.forEach(s => main.append('path').attr('d',barPath(s)).attr('fill','none').attr('stroke','#2e8b57').attr('stroke-width',3).attr('stroke-dasharray','9 4'));

main.append('path').attr('d',barPath(patternPurple)).attr('fill','none').attr('stroke','#8a2be2').attr('stroke-width',2.2).attr('stroke-dasharray','2 3');
main.append('path').attr('d',barPath(patternGreen)).attr('fill','none').attr('stroke','#1f7a2a').attr('stroke-width',4.4);
main.append('path').attr('d',barPath([patternGreen[0],patternGreen[2]])).attr('fill','none').attr('stroke','#1f7a2a').attr('stroke-width',2.4).attr('stroke-dasharray','2 3');

magentaTrends.forEach(t => main.append('path').attr('d',barPath(t)).attr('fill','none').attr('stroke','#f0f').attr('stroke-width',3));
pinkDotted.forEach(t => main.append('path').attr('d',barPath(t)).attr('fill','none').attr('stroke','#ff1493').attr('stroke-width',2.6).attr('stroke-dasharray','2.5 5'));

const smooth = d3.line().x(d => barX(d[0])).y(d => y(d[1])).curve(d3.curveMonotoneX);
main.append('path').attr('d',smooth(goldAverage)).attr('fill','none').attr('stroke','#f9c616').attr('stroke-width',3.2);
main.append('path').attr('d',smooth(grayAverage)).attr('fill','none').attr('stroke','#858585').attr('stroke-width',2.4);
main.append('path').attr('d',smooth(dottedAverage)).attr('fill','none').attr('stroke','#000').attr('stroke-width',3.6).attr('stroke-linecap','round').attr('stroke-dasharray','0 8');
main.append('path').attr('d',smooth(blueAverage)).attr('fill','none').attr('stroke','#0000f0').attr('stroke-width',2.4);

glassOvals.forEach(o => {
    main.append('ellipse').attr('cx',(x(o[0])+x(o[1]))/2).attr('cy',(y(o[2])+y(o[3]))/2)
        .attr('rx',(x(o[1])-x(o[0]))/2).attr('ry',(y(o[3])-y(o[2]))/2)
        .attr('fill','rgba(64,224,208,.55)').attr('stroke','#777').attr('stroke-width',2);
});

main.append('g').selectAll('circle').data(swingDots).join('circle')
    .attr('cx',d => x(d[0])).attr('cy',d => y(d[1])).attr('r',3.8).attr('fill',d => d[2]);

// up arrow under the last pivot, arrows where pink levels begin
main.append('path').attr('d',d3.symbol().type(d3.symbolTriangle).size(90)())
    .attr('transform','translate('+x(292.2)+','+(y(2791)-9)+')').attr('fill','#1f7a2a').attr('stroke','#000');
[[326.2,2811.6],[190,2796.25]].forEach(a => {
    main.append('path').attr('d',d3.symbol().type(d3.symbolTriangle).size(110)())
        .attr('transform','translate('+(x(a[0])+12)+','+y(a[1])+') rotate(90)').attr('fill','#ff1493');
    main.append('line').attr('x1',x(a[0])).attr('x2',x(a[0])+12).attr('y1',y(a[1])).attr('y2',y(a[1])).attr('stroke','#ff1493').attr('stroke-width',2);
});

// target rows
const rowColor = {p:'#9440e6', g:'#1e8a1e'};
const bold13 = c => ({size:13,weight:700,color:c,spacing:.3});
const rowG = main.append('g');
fibRows.forEach(r => {
    const c = rowColor[r[0]], py = y(r[7]);
    if (r[1]) put(rowG,x(r[2]),py,r[1],Object.assign(bold13(c),{anchor:'start'}));
    if (r[3]) put(rowG,x(r[4]),py,r[3],Object.assign(bold13(c),{anchor:'end'}));
    put(rowG,x(368.7),py,r[5],bold13(c));
    put(rowG,x(388.1),py,r[6].toFixed(2),Object.assign(bold13(c),{anchor:'end'}));
});
pinkRows.forEach(r => {
    const py = y(r[2]);
    if (r[0]) put(rowG,x(370.7),py,r[0],Object.assign(bold13('#ff2090'),{anchor:'end'}));
    put(rowG,x(389),py,r[1].toFixed(2),Object.assign(bold13('#ff2090'),{anchor:'end'}));
});

const noteLook = {
    small:{size:9.5}, orange:{size:9.5,color:'#ffd27f'}, white:{size:9.5,color:'#fff'},
    purple:{size:13,weight:700,color:'#9440e6',spacing:.3}, green:{size:13,weight:700,color:'#1e8a1e',spacing:.3}, pinkBig:{size:13,weight:700,color:'#ff2090'},
    paleYellow:{size:13,color:'#f5e27a'}, paleOrange:{size:13,color:'#f7c7a0'}, pale:{size:13,color:'#b5b5a5'}, paleGreen:{size:13,color:'#b4dcae'}, paleLilac:{size:12,color:'#bfa8e6'},
    black15:{size:13.5}, brown:{size:9,weight:700,color:'#8b5a2b'}, level:{size:13,color:'#483d8b'}, cyanLevel:{size:13,color:'#3ff0f0'}, grayLevel:{size:13,color:'#777'},
    pivotBlue:{size:10,color:'#4a9ff0'}, pivotGray:{size:10,color:'#7a6a8a'}, pivotRed:{size:10,color:'#e0224a'}, limeBold:{size:10,weight:700,color:'#10e010'}
};
notes.forEach(n => put(rowG,x(n[1]),y(n[2]),n[0],noteLook[n[3]]));
slantNotes.forEach(n => rowG.append('text').attr('transform','translate('+x(n[1])+','+y(n[2])+') rotate('+n[3]+')')
    .attr('text-anchor','middle').attr('font-size',13).attr('fill','#555').text(n[0]));

// order tags drawn on the chart
const tagG = main.append('g');
tagG.append('rect').attr('x',x(268.4)).attr('width',x(289.9)-x(268.4)).attr('y',y(2815.1)).attr('height',y(2814.4)-y(2815.1)).attr('fill','#000');
put(tagG,x(276),y(2814.75),'$312.50',{size:10,color:'#32cd32'});
tagG.append('rect').attr('x',x(286)).attr('width',x(289.9)-x(286)).attr('y',y(2815.1)).attr('height',y(2814.4)-y(2815.1)).attr('fill','#1f9a1f');
put(tagG,x(288),y(2814.75),'1',{size:10,color:'#fff'});
tagG.append('path').attr('d','M'+x(250.3)+','+y(2810.85)+'H'+x(267)+'L'+x(268.4)+','+y(2810.5)+'L'+x(267)+','+y(2810.2)+'H'+x(250.3)+'Z').attr('fill','#e8001c').attr('stroke','#a00');
put(tagG,x(259),y(2810.53),'1  Sell STP',{size:10,color:'#fff'});
tagG.append('rect').attr('x',x(383.2)).attr('width',x(386.8)-x(383.2)).attr('y',y(2810.85)).attr('height',y(2810.2)-y(2810.85)).attr('fill','#fff').attr('stroke','#000').attr('stroke-width',1.6);
tagG.append('path').attr('d','M'+x(383.7)+','+y(2810.78)+'L'+x(386.3)+','+y(2810.27)+'M'+x(386.3)+','+y(2810.78)+'L'+x(383.7)+','+y(2810.27)).attr('stroke','#000').attr('stroke-width',2.4);

put(main,1150,1451,'Bearish XTP-2 ?, Bars: 68, Reward: 3, Risk: 0, RvR: 5.00',{size:14,anchor:'start'});
put(main,1507,1485,'Time remaining = 00:03:48',{size:10.5,anchor:'end'});
put(main,11,1472,'ABCDTrading.com',{size:10.5,anchor:'start',color:'#111'});
main.append('path').attr('d','M5,1476 C6,1466 12,1462 16,1465 C11,1466 9,1471 9,1476 Z').attr('fill','#d22');

// delta panel
const wickBy = new Map(deltaWicks.map(w => [w[0],w]));
const deltaG = svg.append('g');
deltaG.append('line').attr('x1',x(0)).attr('x2',barX(369)).attr('y1',yDelta(0)).attr('y2',yDelta(0)).attr('stroke','#000').attr('stroke-width',1);
const deltaBars = deltaClose.map((v,k) => ({k,v,w:wickBy.get(k)}));
deltaG.selectAll('line.wick').data(deltaBars.filter(d => d.w)).join('line').attr('class','wick')
    .attr('x1',d => barX(d.k)).attr('x2',d => barX(d.k))
    .attr('y1',d => yDelta(Math.max(d.w[1],d.v,0))).attr('y2',d => yDelta(Math.min(d.w[2],d.v,0)))
    .attr('stroke','#000').attr('stroke-width',1);
deltaG.selectAll('rect').data(deltaBars.filter(d => d.v!==0)).join('rect')
    .attr('x',d => barX(d.k)-1.7).attr('width',3.4)
    .attr('y',d => yDelta(Math.max(d.v,0))).attr('height',d => Math.abs(yDelta(d.v)-yDelta(0)))
    .attr('fill',d => d.v>0 ? '#2fb53a' : '#f00').attr('stroke','#000').attr('stroke-width',.7);

// cumulative volume panel
const volumeBars = [];
volumeRuns.forEach(run => run[1].forEach((v,i) => volumeBars.push({k:run[0]+i,v})));
volumeBars.push({k:369,v:-3.8},{k:360,v:35,top:true});
svg.append('g').selectAll('rect').data(volumeBars).join('rect')
    .attr('x',d => barX(d.k)-1.1).attr('width',2.2)
    .attr('y',d => yVolume(Math.abs(d.v))).attr('height',d => d.top ? 2 : yVolume(0)-yVolume(Math.abs(d.v)))
    .attr('fill',d => d.v>0 ? '#10ee10' : '#f00');

// session dividers through all panels
svg.append('g').selectAll('line').data(sessionBreaks).join('line')
    .attr('x1',d => x(d)).attr('x2',d => x(d)).attr('y1',0).attr('y2',2008)
    .attr('stroke','#666').attr('stroke-width',1).attr('stroke-dasharray','1.5 1.5');

// panel frames
svg.append('line').attr('x1',0).attr('x2',W).attr('y1',1500).attr('y2',1500).attr('stroke','#000').attr('stroke-width',2.6);
svg.append('line').attr('x1',0).attr('x2',W).attr('y1',1743).attr('y2',1743).attr('stroke','#000').attr('stroke-width',2.6);
svg.append('line').attr('x1',0).attr('x2',axisX).attr('y1',2012).attr('y2',2012).attr('stroke','#000').attr('stroke-width',1.6);

// axes
function styleAxis(g) {
    g.select('.domain').attr('stroke','#000').attr('stroke-width',1.6);
    g.selectAll('.tick line').attr('stroke','#000').attr('stroke-width',1.2);
    g.selectAll('text').attr('font-family','"Liberation Sans", Arial, sans-serif').attr('font-size',10.5).attr('fill','#000');
}
const stretch = g => g.selectAll('text').attr('transform','scale(1,1.18)');
svg.append('g').attr('transform','translate('+axisX+',0)')
    .call(d3.axisRight(y).tickValues(priceTicks).tickFormat(d3.format('.2f')).tickSize(5).tickPadding(4))
    .call(styleAxis).call(stretch).call(g => g.select('.domain').attr('d','M0,0V1500'));
svg.append('g').attr('transform','translate('+axisX+',0)')
    .call(d3.axisRight(yDelta).tickValues(deltaTicks).tickFormat(d3.format('d')).tickSize(5).tickPadding(4))
    .call(styleAxis).call(stretch).call(g => g.select('.domain').attr('d','M0,1500V1743'));
svg.append('g').attr('transform','translate('+axisX+',0)')
    .call(d3.axisRight(yVolume).tickValues(volumeTicks).tickFormat(d => d+'K').tickSize(5).tickPadding(4))
    .call(styleAxis).call(stretch).call(g => g.select('.domain').attr('d','M0,1743V2012'));
svg.append('g').attr('transform','translate(0,2012)')
    .call(d3.axisBottom(x).tickValues(timeBars).tickFormat((d,i) => timeLabels[i]).tickSize(6).tickPadding(7))
    .call(styleAxis).call(stretch).call(g => g.select('.domain').remove());

// flags on the price scale
function flag(py,fill,txt,color) {
    const g = svg.append('g').attr('transform','translate('+axisX+','+py+')');
    g.append('path').attr('d','M-6,0L0,-8.5H50V8.5H0Z').attr('fill',fill).attr('stroke','#222').attr('stroke-width',1);
    put(g,5,0,txt,{size:10.5,anchor:'start',color});
}
priceFlags.forEach(f => flag(y(f[0]),f[1],flagText[f[0]]||f[0].toFixed(2),f[2]));
flag(yVolume(279),'#10ee10','279K','#000');
flag(yVolume(12),'#f00','3832','#fff');

// header, buttons
put(svg,5,11,'XT - Patterns(ES 06-19 (10 Minute))',{size:10.8,anchor:'start'});
put(svg,5,28,'3/11/2019 00:20:00 - 3/13/2019 16:40:00',{size:10.8,anchor:'start'});
[['PriorWeek',181],['PriorDay',241],['PriorMonth',301]].forEach(b => {
    svg.append('rect').attr('x',b[1]).attr('y',1).attr('width',59).attr('height',15).attr('fill','#ffd700').attr('stroke','#999').attr('stroke-width',1.4);
    put(svg,b[1]+29.5,8.5,b[0],{size:10,weight:700,color:'#222',spacing:.2});
});
svg.append('rect').attr('x',1552).attr('y',2).attr('width',16).attr('height',18).attr('fill','#6e6e6e');
put(svg,1560,11,'F',{size:12,color:'#fff'});

// left drawing toolbar
const bar = svg.append('g');
bar.append('rect').attr('x',0).attr('y',33).attr('width',30).attr('height',833).attr('fill','#f5f5f5');
bar.append('rect').attr('x',30).attr('y',33).attr('width',29).attr('height',22).attr('fill','#f5f5f5');
bar.append('rect').attr('x',36).attr('y',34).attr('width',20).attr('height',20).attr('fill','#777');
bar.append('circle').attr('cx',46).attr('cy',44).attr('r',7).attr('fill','#fff').attr('stroke','#9a0f14').attr('stroke-width',3);
bar.append('line').attr('x1',41).attr('x2',51).attr('y1',49).attr('y2',39).attr('stroke','#9a0f14').attr('stroke-width',3);
const strokes = (g,col,w,list) => list.forEach(p => g.append('path').attr('d',p).attr('fill','none').attr('stroke',col).attr('stroke-width',w));
function icon(n,cy) {
    const g = bar.append('g').attr('transform','translate(13,'+cy+')');
    switch (n) {
    case 0: strokes(g,'#e8912a',3,['M-6,-6L5,6']); strokes(g,'#c33',3,['M-7,-7L-5,-5']); break;
    case 1: case 2: {
        const c = n===1 ? '#d11' : '#1a9a1a';
        g.append('ellipse').attr('rx',7.5).attr('ry',4.5).attr('fill','#fff').attr('stroke','#555').attr('stroke-width',1.4);
        g.append('circle').attr('r',3).attr('fill',c); break; }
    case 3: bar.append('rect').attr('x',3).attr('y',cy-10).attr('width',20).attr('height',20).attr('fill','#777');
        strokes(bar.append('g').attr('transform','translate(13,'+cy+')'),'#e8a44a',3,['M-6,-6L6,6','M6,-6L-6,6']); break;
    case 4: g.append('text').attr('text-anchor','middle').attr('dy',6).attr('font-size',18).attr('font-weight',700).attr('fill','#1a8a1a').text('%'); break;
    case 5: strokes(g,'#2a9a1a',2,['M-8,-6H8']); strokes(g,'#0018b0',4,['M-8,2H8']); strokes(g,'#ff4444',2,['M-8,6H8']); break;
    case 6: strokes(g,'#cc2222',4,['M0,-7V7']); break;
    case 7: strokes(g,'#dd2222',4,['M-7,0H7']); break;
    case 8: case 9: strokes(g,'#000',2.4,['M-7,0H7']); g.append('circle').attr('cx',-5).attr('r',2.6); g.append('circle').attr('cx',n===8?5:0).attr('r',2.6); break;
    case 10: strokes(g,'#000',2,['M-7,0H6','M3,-3L7,0L3,3']); break;
    case 11: strokes(g,'#000',2.4,['M-7,0H7']); break;
    case 12: strokes(g,'#000',2.4,['M0,-7V7']); break;
    case 13: strokes(g,'#000',2,['M-8,-6H8']); strokes(g,'#10a060',2,['M-8,0H8']); strokes(g,'#f06a20',2,['M-8,6H8']); break;
    case 14: strokes(g,'#000',2,['M-2,6V-7H7']); strokes(g,'#10a060',2,['M-2,0H7']); strokes(g,'#f06a20',2,['M-2,6H7']); break;
    case 15: strokes(g,'#000',2.2,['M-6,-7V0H6V-7','M0,-7V8']); break;
    case 16: strokes(g,'#444',1.6,['M-7,3L3,-7','M-7,7L7,-7','M-3,7L7,-3']); break;
    case 17: strokes(g,'#000',2,['M-5,5L5,-5']); break;
    case 18: g.append('circle').attr('r',6.5).attr('fill','none').attr('stroke','#222').attr('stroke-width',1.6); break;
    case 19: g.append('rect').attr('x',-6).attr('y',-6).attr('width',12).attr('height',12).attr('fill','none').attr('stroke','#000').attr('stroke-width',2); break;
    case 20: strokes(g,'#222',1.7,['M0,-6L7,6H-7Z']); break;
    case 21: strokes(g,'#222',1.6,['M-2,-7L6,-2L7,2L2,6L-7,6L-5,-2Z']); break;
    case 22: g.append('text').attr('text-anchor','middle').attr('dy',6).attr('font-size',17).attr('font-weight',700).attr('font-family','Liberation Serif, serif').text('T'); break;
    case 23: g.append('path').attr('d','M0,-8L7,0H3V8H-3V0H-7Z').attr('fill','#2aa84a'); break;
    case 24: g.append('path').attr('d','M0,8L7,0H3V-8H-3V0H-7Z').attr('fill','#f04040'); break;
    case 25: strokes(g,'#cc2222',2.4,['M-6,-6L6,6','M6,-6L-6,6']); break;
    case 26: g.append('rect').attr('x',-6).attr('y',-7).attr('width',13).attr('height',14).attr('fill','#dfe4ff').attr('stroke','#3a4ad0'); g.append('path').attr('d','M-8,0L-3,-4V4Z').attr('fill','#e01010'); break;
    case 27: bar.append('rect').attr('x',3).attr('y',cy-10).attr('width',20).attr('height',20).attr('fill','#777'); bar.append('text').attr('x',13).attr('y',cy+7).attr('text-anchor','middle').attr('font-size',18).attr('font-weight',700).attr('fill','#1a8a1a').text('$'); break;
    case 28: strokes(g,'#000',2.4,['M-6,7V-7H6']); strokes(g,'#10b060',2,['M-5,0H7']); strokes(g,'#f06a20',2,['M-5,6H7']); break;
    case 29: strokes(g,'#c06a10',2.4,['M-7,-7L7,0L-7,7Z']); break;
    case 30: g.append('rect').attr('x',-7).attr('y',-7).attr('width',15).attr('height',15).attr('fill','#e8e8e8').attr('stroke','#000').attr('stroke-width',1.4); strokes(g,'#3a6ad0',3,['M-6,-4H7']); strokes(g,'#f05050',3,['M-6,0H7']); strokes(g,'#3aa050',3,['M-6,4H7']); break;
    }
}
d3.range(31).forEach(n => {
    const cy = 44+27*n;
    if (n<30) bar.append('line').attr('x1',4).attr('x2',22).attr('y1',cy+14.5).attr('y2',cy+14.5).attr('stroke','#888').attr('stroke-width',1);
    icon(n,cy);
});

// footer
put(svg,5,1998,'© 2019 NinjaTrader, LLC',{size:10.5,anchor:'start'});
put(svg,4,2049,'ES 06-19',{size:8,anchor:'start'});
svg.append('ellipse').attr('cx',1414).attr('cy',2050).attr('rx',7).attr('ry',8).attr('fill','none').attr('stroke','#b05040').attr('stroke-width',2);
const brand = put(svg,1429,2050,'',{size:13.5,anchor:'start',spacing:3,color:'#8a8a8a'});
brand.append('tspan').attr('fill','#9a9a9a').text('NINJA');
brand.append('tspan').attr('fill','#a83a3a').text('TRADER');
</script>
</body>
</html>
